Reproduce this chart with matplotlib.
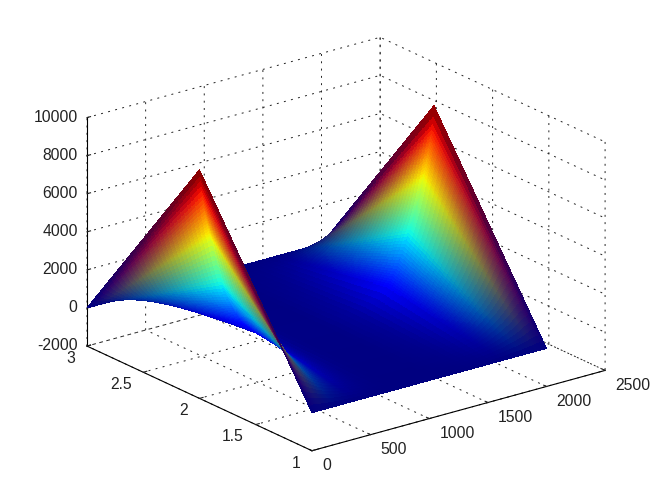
import matplotlib
matplotlib.use("Agg")
import matplotlib.pyplot as plt
import numpy as np

plt.rcParams['font.family'] = ['Liberation Sans', 'DejaVu Sans']
plt.rcParams['axes.unicode_minus'] = False

# the surface is three rows: y=1 and y=3 stay at zero, y=2 carries the ridge
x_vals = [0, 5, 10, 15, 20, 25, 30, 35, 40, 45, 50, 55, 60, 65, 70, 75, 80, 85, 90, 95, 100,
          110, 120, 130, 140, 150, 160, 170, 180, 190, 200,
          210, 220, 230, 240, 250, 260, 270, 280, 290, 300,
          310, 320, 330, 340, 350, 360, 370, 380, 390, 400,
          420, 440, 460, 480, 500, 520, 540, 560, 580, 600,
          650, 700, 750, 800, 850, 900, 950, 1000, 1050, 1100,
          1150, 1200, 1250, 1300, 1350, 1400, 1450, 1500, 1550, 1600,
          1610, 1620, 1630, 1640, 1650, 1660, 1670, 1680, 1690, 1700,
          1710, 1720, 1730, 1740, 1750, 1760, 1770, 1780, 1790, 1800,
          1805, 1810, 1815, 1820, 1825, 1830, 1835, 1840, 1845, 1850,
          1855, 1860, 1865, 1870, 1875, 1880, 1885, 1890, 1895, 1900,
          1905, 1910, 1915, 1920, 1925, 1930, 1935, 1940, 1945, 1950,
          1955, 1960, 1965, 1970, 1975, 1980, 1985, 1990, 1995, 2000]
ridge = [10000, 9730, 9460, 9190, 8920, 8650, 8420, 8200, 8000, 7800, 7610, 7440, 7280, 7130, 6980, 6840, 6700, 6570, 6440, 6320, 6200,
         5900, 5610, 5330, 5060, 4800, 4540, 4300, 4070, 3850, 3650,
         3460, 3280, 3110, 2950, 2800, 2660, 2520, 2390, 2260, 2140,
         2020, 1900, 1790, 1680, 1580, 1480, 1390, 1300, 1220, 1140,
         990, 860, 740, 640, 550, 470, 400, 340, 290, 240,
         150, 100, 70, 60, 50, 50, 50, 60, 70, 90,
         120, 160, 210, 270, 340, 430, 550, 700, 890, 1150,
         1240, 1330, 1430, 1530, 1640, 1750, 1870, 1990, 2120, 2250,
         2400, 2550, 2710, 2870, 3030, 3190, 3350, 3520, 3690, 3860,
         3950, 4040, 4130, 4220, 4320, 4420, 4520, 4620, 4720, 4830,
         4940, 5050, 5170, 5290, 5410, 5530, 5660, 5800, 5940, 6080,
         6220, 6360, 6500, 6650, 6800, 6950, 7100, 7260, 7420, 7580,
         7740, 7900, 8070, 8240, 8420, 8610, 8820, 9100, 9500, 10000]
y_rows = [1, 2, 3]

x_ticks = [0, 500, 1000, 1500, 2000, 2500]
y_ticks = [1, 1.5, 2, 2.5, 3]
z_ticks = [-2000, 0, 2000, 4000, 6000, 8000, 10000]
y_tick_labels = ['1', '1.5', '2', '2.5', '3']

x_arr = np.array(x_vals, dtype=float)
ridge_arr = np.array(ridge, dtype=float)

# Gouraud style shading: colours are blended in RGB between the rows, so each
# straight span between rows is cut into thin slices just for drawing
n_slices = 32
frac = np.linspace(0, 1, n_slices + 1)
frac_all = np.concatenate([frac, frac[::-1][1:]])
y_all = np.concatenate([y_rows[0] + frac * (y_rows[1] - y_rows[0]),
                        y_rows[1] + frac[1:] * (y_rows[2] - y_rows[1])])
X, Y = np.meshgrid(x_arr, y_all)
Z = np.outer(frac_all, ridge_arr)

jet = matplotlib.colormaps['jet']
vmax = 10000.0
strip_rgb = jet(ridge_arr / vmax)[:, :3]
base_rgb = np.array(jet(0.0)[:3])
strip_mid = (strip_rgb[:-1] + strip_rgb[1:]) / 2
frac_mid = (frac_all[:-1] + frac_all[1:]) / 2
faces = np.ones((len(frac_mid), len(strip_mid), 4))
for i, t in enumerate(frac_mid):
    faces[i, :, :3] = (1 - t) * base_rgb + t * strip_mid

fig = plt.figure(figsize=(6.72, 5.04), dpi=100)
ax = fig.add_axes([27 / 672, 32.2 / 504, 621.3 / 672, 443.6 / 504], projection='3d', proj_type='ortho')
ax.apply_aspect = lambda position=None: None  # stretch to fill, as the original does
ax.set_box_aspect((1, 1, 1))
ax.view_init(elev=30, azim=-127.5)

ax.plot_surface(X, Y, Z, facecolors=faces, rstride=1, cstride=1, shade=False,
                linewidth=0.3, edgecolor='none', antialiased=False)

ax.set_xlim(0, 2500, view_margin=0)
ax.set_ylim(1, 3, view_margin=0)
ax.set_zlim(-2000, 10000, view_margin=0)
ax.set_xticks(x_ticks)
ax.set_yticks(y_ticks)
ax.set_yticklabels(y_tick_labels)
ax.set_zticks(z_ticks)

for axis in (ax.xaxis, ax.yaxis, ax.zaxis):
    axis.pane.set_visible(False)
    axis._axinfo['grid'].update(color='#222222', linewidth=0.7, linestyle=(0, (2, 5.5)))
    axis._axinfo['tick'].update(inward_factor=0.0, outward_factor=0.15)
    axis._axinfo['axisline']['color'] = 'k'
    axis.line.set_linewidth(0.8)
ax.tick_params(axis='both', labelsize=11.3, colors='#222222')
ax.tick_params(axis='x', pad=1)
ax.tick_params(axis='y', pad=0)
ax.tick_params(axis='z', pad=-4.4)

for lab in ax.xaxis.get_majorticklabels():
    lab.set_ha('left')
    lab.set_va('center')
for lab in ax.yaxis.get_majorticklabels():
    lab.set_ha('right')
    lab.set_va('center')
for lab in ax.zaxis.get_majorticklabels():
    lab.set_ha('right')
    lab.set_va('center')

fig.savefig('out.png', dpi=100)
